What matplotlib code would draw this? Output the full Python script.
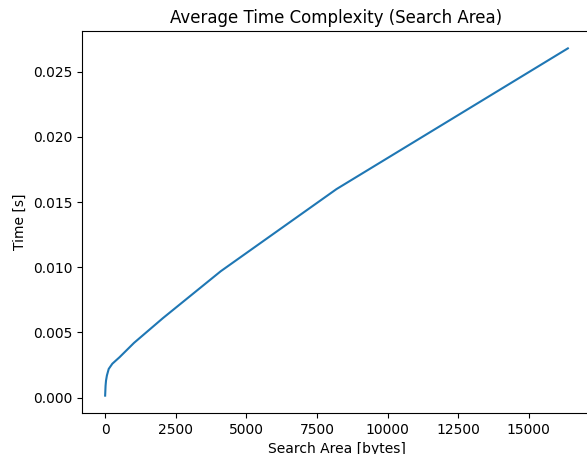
import matplotlib
matplotlib.use("Agg")
import matplotlib.pyplot as plt

# search area sizes (bytes) and average time (s)
area = [1, 16, 32, 64, 128, 256, 512, 1024, 2048, 4096, 8192, 16384]
avg_time = [0.00015, 0.0009, 0.0013, 0.0017, 0.0022, 0.0026, 0.0031,
            0.0042, 0.0061, 0.0097, 0.0160, 0.0268]

fig = plt.figure(figsize=(5.87, 4.54), dpi=100)
# axes run slightly past the right edge, as in the cropped original
ax = fig.add_axes([82 / 587, 41 / 454, 509 / 587, 382 / 454])

ax.plot(area, avg_time, color="#1f77b4", linewidth=1.5)
ax.set_title("Average Time Complexity (Search Area)")
ax.set_xlabel("Search Area [bytes]")
ax.set_ylabel("Time [s]")

fig.savefig("out.png", dpi=100)
